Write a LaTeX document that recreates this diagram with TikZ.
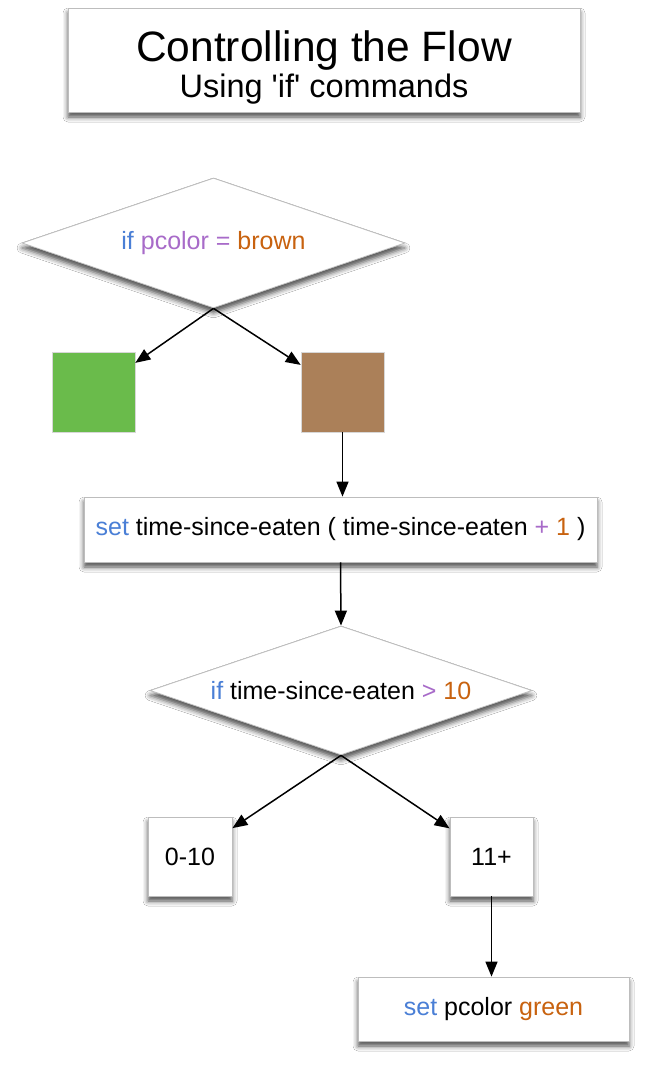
\documentclass[tikz,border=0pt]{standalone}
\usepackage{fontspec}
\setmainfont{Liberation Sans}
\usetikzlibrary{shapes.geometric,arrows.meta,shadows.blur}
\definecolor{kwblue}{HTML}{4A7FD6}
\definecolor{kwpurple}{HTML}{A86BC9}
\definecolor{kworange}{HTML}{C8620F}
\definecolor{sqgreen}{HTML}{6ABB4B}
\definecolor{sqbrown}{HTML}{AB8059}
\definecolor{edgegray}{HTML}{BDBDBD}
\begin{document}
\begin{tikzpicture}[x=1pt,y=-1pt,
  shade/.style={blur shadow={shadow xshift=0pt,shadow yshift=-5pt,shadow blur radius=5pt,shadow opacity=70}},
  box/.style={draw=edgegray,line width=0.8pt,fill=white,shade,inner sep=0pt},
  decision/.style={diamond,draw=edgegray,line width=0.8pt,fill=white,shade,inner sep=0pt},
  swatch/.style={draw=edgegray!60,line width=0.6pt,inner sep=0pt,minimum width=83,minimum height=80},
  bodytext/.style={font=\fontsize{25}{29}\selectfont},
  flow/.style={-{Triangle[length=15pt,width=12pt]},line width=1.5pt}]
\useasboundingbox (0,0) rectangle (648,1068);
\fill[white] (0,0) rectangle (648,1068);

\node[box,minimum width=512,minimum height=104] (title) at (324,60) {};
\node[anchor=base,font=\fontsize{42.5}{46}\selectfont] (t1) at (324,61) {Controlling the Flow};
\node[anchor=base,font=\fontsize{32.5}{36}\selectfont] (t2) at (324,97) {Using \textquotesingle if\textquotesingle{} commands};

\node[decision,bodytext,aspect=2.95,minimum width=383,minimum height=130] (d1) at (213.5,243)
  {\textcolor{kwblue}{if} \textcolor{kwpurple}{pcolor =} \textcolor{kworange}{brown}};

\node[swatch,fill=sqgreen] (green) at (93.5,392) {};
\node[swatch,fill=sqbrown] (brown) at (342.5,392) {};

\node[box,bodytext,minimum width=513,minimum height=65] (set1) at (340.5,529.5)
  {\textcolor{kwblue}{set} time-since-eaten ( time-since-eaten \textcolor{kwpurple}{+} \textcolor{kworange}{1} )};

\node[decision,bodytext,aspect=2.96,minimum width=382,minimum height=129] (d2) at (341,690.5)
  {\textcolor{kwblue}{if} time-since-eaten \textcolor{kwpurple}{>} \textcolor{kworange}{10}};

\node[box,bodytext,minimum width=84,minimum height=79] (low) at (190,856.5) {0-10};
\node[box,bodytext,minimum width=83,minimum height=79] (high) at (491.5,856.5) {11+};

\node[box,bodytext,minimum width=271,minimum height=64] (set2) at (493.5,1009)
  {\textcolor{kwblue}{set} pcolor \textcolor{kworange}{green}};

\draw[flow] (d1.south) -- (green);
\draw[flow] (d1.south) -- (brown);
\draw[flow] (brown.south) -- (set1.north -| brown.south);
\draw[flow] (set1.south) -- (d2.north);
\draw[flow] (d2.south) -- (low);
\draw[flow] (d2.south) -- (high);
\draw[flow] (high.south) -- (high.south |- set2.north);
\end{tikzpicture}
\end{document}
